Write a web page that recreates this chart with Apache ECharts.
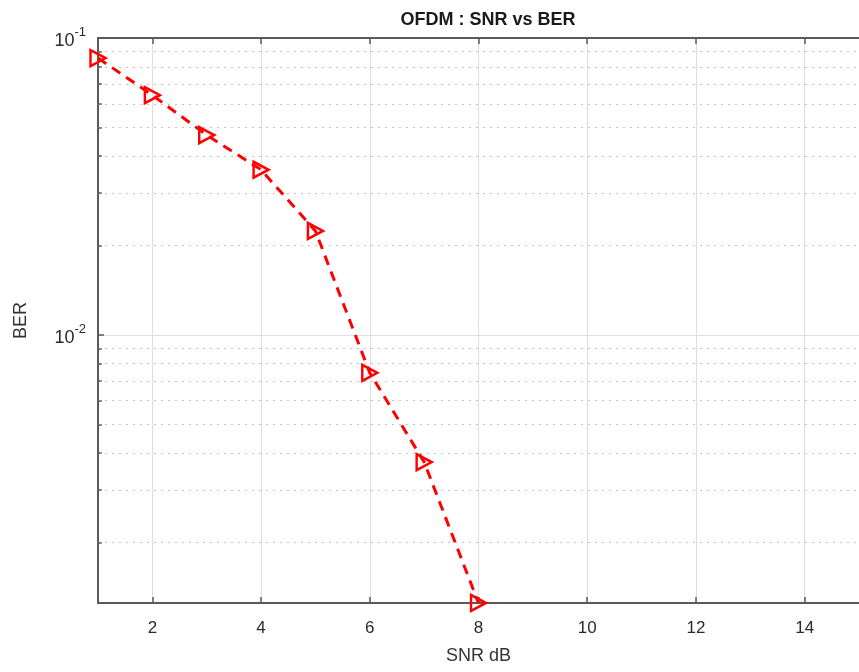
<!DOCTYPE html>
<html>
<head>
<meta charset="utf-8">
<script src="https://cdn.jsdelivr.net/npm/echarts@6/dist/echarts.min.js"></script>
<style>
    html, body { margin: 0; padding: 0; background: #fff; }
    #main { width: 859px; height: 672px; }
</style>
</head>
<body>
<div id="main"></div>
<script>
var snr = [1, 2, 3, 4, 5, 6, 7, 8];
var ber = [0.0856, 0.0642, 0.0471, 0.0360, 0.0224, 0.00745, 0.00373, 0.00125];
var xTicks = [2, 4, 6, 8, 10, 12, 14];
var yTicks = [0.01, 0.1];
var yMinor = [0.002, 0.003, 0.004, 0.005, 0.006, 0.007, 0.008, 0.009,
              0.02, 0.03, 0.04, 0.05, 0.06, 0.07, 0.08, 0.09];

var axisColor = '#5a5a5a';
var gridColor = '#dedede';
var font = 'Liberation Sans, Arial, sans-serif';

var myChart = echarts.init(document.getElementById('main'));
var option = {
    backgroundColor: '#fff',
    animation: false,
    title: {
        text: 'OFDM : SNR vs BER',
        left: 483,
        textAlign: 'center',
        top: 6,
        textStyle: { fontFamily: font, fontSize: 18, fontWeight: 'bold', color: '#1a1a1a' }
    },
    grid: { left: 98, top: 38, right: -8, bottom: 69 },
    xAxis: [{
        type: 'value',
        min: 1,
        max: 15,
        name: 'SNR dB',
        nameLocation: 'middle',
        nameGap: 44,
        nameTextStyle: { fontFamily: font, fontSize: 18, color: '#333' },
        axisLine: { show: true, lineStyle: { color: axisColor, width: 2 } },
        axisTick: { show: true, inside: true, length: 6, customValues: xTicks, lineStyle: { color: axisColor, width: 1.5 } },
        axisLabel: { customValues: xTicks, margin: 17, fontFamily: font, fontSize: 17, color: '#2a2a2a' },
        splitLine: { show: true, lineStyle: { color: gridColor, width: 1 } }
    }, {
        type: 'value',
        min: 1,
        max: 15,
        position: 'top',
        axisLine: { show: true, lineStyle: { color: axisColor, width: 2 } },
        axisTick: { show: true, inside: true, length: 6, customValues: xTicks, lineStyle: { color: axisColor, width: 1.5 } },
        axisLabel: { show: false },
        splitLine: { show: false }
    }],
    yAxis: [{
        type: 'log',
        min: 0.00125,
        max: 0.1,
        name: 'BER',
        nameLocation: 'middle',
        nameGap: 68,
        nameTextStyle: { fontFamily: font, fontSize: 18, color: '#333' },
        axisLine: { show: true, lineStyle: { color: axisColor, width: 2 } },
        axisTick: { show: true, inside: true, length: 6, customValues: yTicks, lineStyle: { color: axisColor, width: 1.5 } },
        axisLabel: {
            customValues: yTicks,
            margin: 12,
            formatter: function (v) {
                return '{b|10}{s|' + Math.round(Math.log10(v)) + '}';
            },
            rich: {
                b: { fontFamily: font, fontSize: 18, color: '#2a2a2a', lineHeight: 24, verticalAlign: 'bottom' },
                s: { fontFamily: font, fontSize: 13, color: '#2a2a2a', lineHeight: 24, verticalAlign: 'top', padding: [0, 0, 10, 0] }
            }
        },
        splitLine: { show: true, lineStyle: { color: gridColor, width: 1 } }
    }],
    series: [{
        name: 'BER',
        type: 'line',
        data: snr.map(function (x, i) { return [x, ber[i]]; }),
        symbol: 'path://M0,0 L10,5 L0,10 Z',
        symbolSize: [15, 16],
        showAllSymbol: true,
        lineStyle: { color: '#ff0000', width: 3, type: [10, 7] },
        itemStyle: { color: 'rgba(0,0,0,0)', borderColor: '#ff0000', borderWidth: 2.5 },
        z: 5,
        // minor grid lines of the log axis
        markLine: {
            silent: true,
            symbol: ['none', 'none'],
            label: { show: false },
            lineStyle: { color: '#c4c4c4', width: 1, type: [2, 5] },
            data: yMinor.map(function (v) { return [{ coord: [1, v] }, { coord: [15, v] }]; }),
            z: 1
        }
    }, {
        // minor ticks on the left axis
        name: 'minorTicks',
        type: 'line',
        data: [],
        silent: true,
        markLine: {
            silent: true,
            symbol: ['none', 'none'],
            label: { show: false },
            lineStyle: { color: axisColor, width: 1.5, type: 'solid' },
            data: yMinor.map(function (v) { return [{ coord: [1, v] }, { coord: [1.07, v] }]; }),
            z: 3
        }
    }]
};
myChart.setOption(option);
</script>
</body>
</html>
